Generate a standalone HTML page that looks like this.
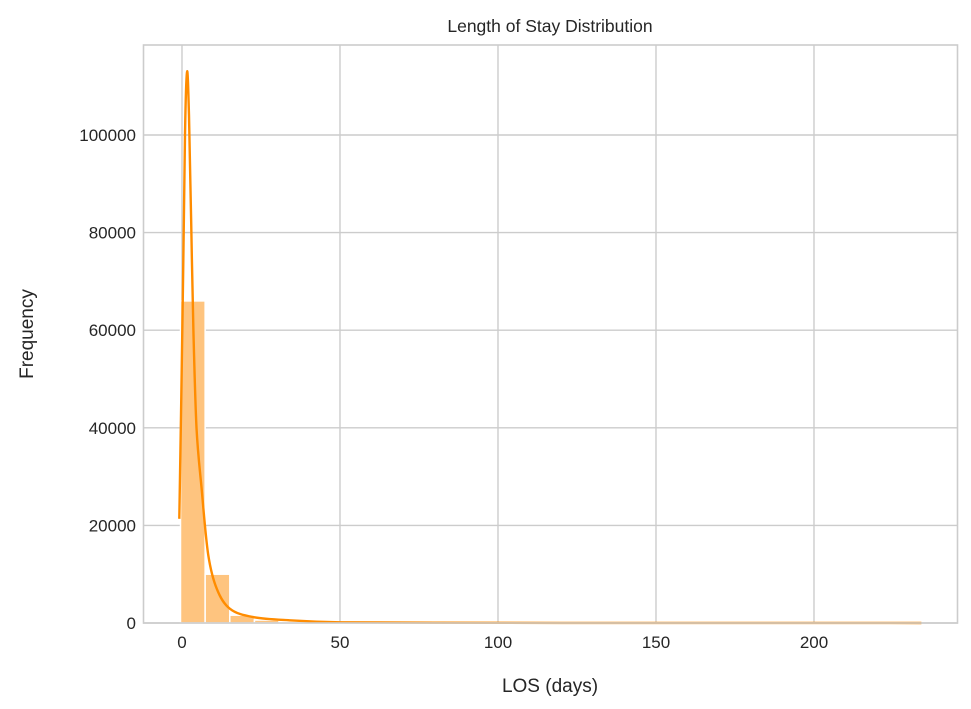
<!DOCTYPE html>
<html><head><meta charset="utf-8"><style>
html,body{margin:0;padding:0;background:#fff;}
svg{display:block;font-family:"Liberation Sans","DejaVu Sans",sans-serif;}
</style></head><body>
<svg id="chart" width="971" height="709" viewBox="0 0 971 709">
<g id="grid"></g>
<g id="bars"></g>
<path id="kde" fill="none" stroke="#ff8c00" stroke-width="2.4" stroke-linejoin="round"/>
<rect x="143.5" y="45" width="814" height="578" fill="none" stroke="#cccccc" stroke-width="1.6"/>
<g id="xticks"></g>
<g id="yticks"></g>
<text x="550" y="32" text-anchor="middle" font-size="17.5" fill="#262626">Length of Stay Distribution</text>
<text x="550" y="692" text-anchor="middle" font-size="19" fill="#262626">LOS (days)</text>
<text x="33" y="334" text-anchor="middle" font-size="19" fill="#262626" transform="rotate(-90 33 334)">Frequency</text>
</svg>
<script>
const binStart = 0;
const binWidth = 7.8;
const binCounts = [66000,10000,1600,600,300,200,130,90,70,50,40,30,25,20,20,15,15,12,10,10,8,8,6,6,5,5,4,4,3,3];
const kdeX = [-0.84,0.2,0.95,1.6,2.2,2.9,3.6,4.6,6.2,8.3,11,15.2,22.5,34,50,80,120,170,234];
const kdeY = [21350,64000,100000,113000,104000,82000,60000,40000,27600,14000,7000,2900,1200,550,150,60,30,15,5];
const xTicks = [0,50,100,150,200];
const yTicks = [0,20000,40000,60000,80000,100000];

const X0=182, XS=3.16, Y0=623, YS=0.00488;
const sx=v=>X0+v*XS, sy=v=>Y0-v*YS;
const NS='http://www.w3.org/2000/svg';
const grid=document.getElementById('grid'), bars=document.getElementById('bars');
const xt=document.getElementById('xticks'), yt=document.getElementById('yticks');
xTicks.forEach(t=>{
  const l=document.createElementNS(NS,'line');
  l.setAttribute('x1',sx(t));l.setAttribute('x2',sx(t));l.setAttribute('y1',45);l.setAttribute('y2',623);
  l.setAttribute('stroke','#cccccc');l.setAttribute('stroke-width','1.4');
  
  
  grid.appendChild(l);
  const tx=document.createElementNS(NS,'text');
  tx.setAttribute('x',sx(t));tx.setAttribute('y',648);tx.setAttribute('text-anchor','middle');
  tx.setAttribute('font-size','17');tx.setAttribute('fill','#262626');tx.textContent=t;
  
  
  xt.appendChild(tx);
});
yTicks.forEach(t=>{
  const l=document.createElementNS(NS,'line');
  l.setAttribute('x1',143);l.setAttribute('x2',958);l.setAttribute('y1',sy(t));l.setAttribute('y2',sy(t));
  l.setAttribute('stroke','#cccccc');l.setAttribute('stroke-width','1.4');
  
  
  grid.appendChild(l);
  const tx=document.createElementNS(NS,'text');
  tx.setAttribute('x',136);tx.setAttribute('y',sy(t)+6);tx.setAttribute('text-anchor','end');
  tx.setAttribute('font-size','17');tx.setAttribute('fill','#262626');tx.textContent=t;
  
  
  yt.appendChild(tx);
});
binCounts.forEach((c,i)=>{
  const a=binStart+i*binWidth, b=a+binWidth;
  const r=document.createElementNS(NS,'rect');
  r.setAttribute('x',sx(a)-1.5);r.setAttribute('width',sx(b)-sx(a));
  r.setAttribute('y',sy(c));r.setAttribute('height',Math.max(Y0-sy(c),0));
  r.setAttribute('fill','#fec47f');r.setAttribute('stroke','#ffffff');r.setAttribute('stroke-width','1.5');
  
  
  bars.appendChild(r);
});
const pts=kdeX.map((x,i)=>[sx(x),sy(kdeY[i])]);
let d='M'+pts[0][0].toFixed(1)+','+pts[0][1].toFixed(1);
for(let i=0;i<pts.length-1;i++){
  const p0=pts[Math.max(i-1,0)],p1=pts[i],p2=pts[i+1],p3=pts[Math.min(i+2,pts.length-1)];
  const c1=[p1[0]+(p2[0]-p0[0])/6,p1[1]+(p2[1]-p0[1])/6];
  const c2=[p2[0]-(p3[0]-p1[0])/6,p2[1]-(p3[1]-p1[1])/6];
  d+=' C'+c1.map(v=>v.toFixed(1)).join(',')+' '+c2.map(v=>v.toFixed(1)).join(',')+' '+p2.map(v=>v.toFixed(1)).join(',');
}
document.getElementById('kde').setAttribute('d',d);
</script>
</body></html>
